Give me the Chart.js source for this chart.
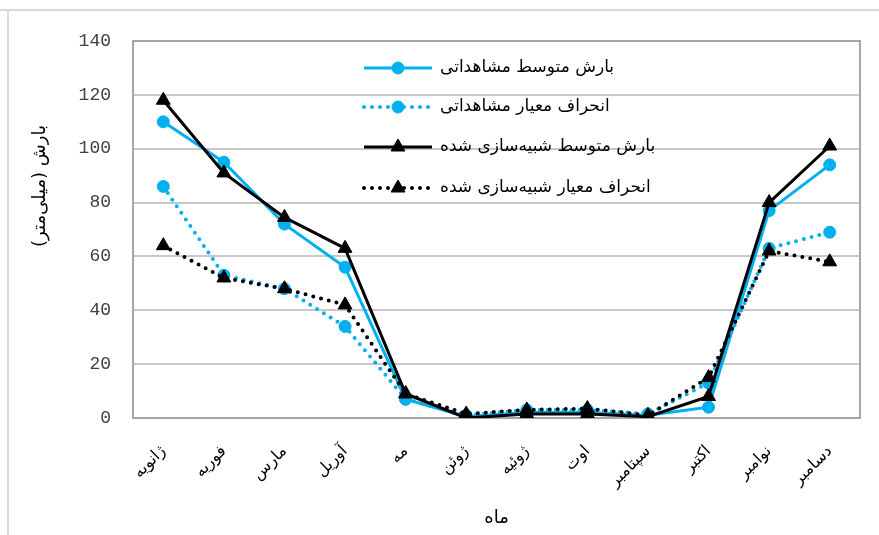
<!DOCTYPE html>
<html>
<head>
<meta charset="utf-8">
<script src="https://cdn.jsdelivr.net/npm/chart.js@4"></script>
<style>
  html, body { margin: 0; padding: 0; background: #fff; }
  #wrap { width: 879px; height: 535px; }
</style>
</head>
<body>
<div id="wrap"><canvas id="chart" width="879" height="535"></canvas></div>
<script>
const months = ["ژانویه", "فوریه", "مارس", "آوریل", "مه", "ژوئن", "ژوئیه", "اوت", "سپتامبر", "اکتبر", "نوامبر", "دسامبر"];

const obsMean = [110, 95, 72, 56, 7, 0.5, 2, 2, 1, 4, 77, 94];
const obsSd = [86, 53, 48, 34, 7, 1, 3, 3, 1.5, 13, 63, 69];
const simMean = [118, 91, 74.5, 63, 9, 0, 1.5, 1.5, 0.5, 8, 80, 101];
const simSd = [64, 52, 48, 42, 9, 1.5, 3, 3.5, 1, 15, 62, 58];

const seriesNames = ["بارش متوسط مشاهداتی", "انحراف معیار مشاهداتی", "بارش متوسط شبیه‌سازی شده", "انحراف معیار شبیه‌سازی شده"];
const yTitle = "بارش (میلی‌متر)";
const xTitle = "ماه";

const blue = "#00B0F0";
const faFont = "'DejaVu Sans', sans-serif";
const legendRows = [68, 107, 147, 188];

function makeSet(label, data, color, dotted, style, radius, order) {
  return {
    label, data, order,
    borderColor: color,
    backgroundColor: color,
    borderWidth: dotted ? 4 : 3,
    borderDash: dotted ? [0, 8] : [],
    borderCapStyle: dotted ? "round" : "butt",
    pointStyle: style,
    pointRadius: radius,
    pointBorderWidth: 1,
    fill: false,
    tension: 0
  };
}

/* 外枠 */
const frame = {
  id: "frame",
  beforeDraw(chart) {
    const ctx = chart.ctx;
    ctx.save();
    ctx.strokeStyle = "#d9d9d9";
    ctx.lineWidth = 2;
    ctx.beginPath();
    ctx.moveTo(0, 10); ctx.lineTo(879, 10);
    ctx.moveTo(8, 10); ctx.lineTo(8, 535);
    ctx.stroke();
    ctx.restore();
  },
  beforeDatasetsDraw(chart) {
    const ctx = chart.ctx;
    const a = chart.chartArea;
    ctx.save();
    ctx.strokeStyle = "#a6a6a6";
    ctx.lineWidth = 2;
    ctx.strokeRect(a.left, a.top, a.right - a.left, a.bottom - a.top);
    ctx.restore();
  }
};

/* 凡例・軸タイトル */
const extras = {
  id: "extras",
  afterDraw(chart) {
    const ctx = chart.ctx;
    ctx.save();

    // y title
    ctx.fillStyle = "#000";
    ctx.font = "18px " + faFont;
    ctx.direction = "rtl";
    ctx.textAlign = "center";
    ctx.textBaseline = "middle";
    ctx.save();
    ctx.translate(40, 186);
    ctx.rotate(-Math.PI / 2);
    ctx.fillText(yTitle, 0, 0);
    ctx.restore();

    // legend
    chart.data.datasets.forEach((ds, i) => {
      const y = legendRows[i];
      ctx.save();
      ctx.strokeStyle = ds.borderColor;
      ctx.lineWidth = ds.borderWidth;
      ctx.lineCap = ds.borderCapStyle;
      ctx.setLineDash(ds.borderDash);
      ctx.beginPath();
      ctx.moveTo(364, y);
      ctx.lineTo(432, y);
      ctx.stroke();
      ctx.restore();

      ctx.save();
      ctx.fillStyle = ds.backgroundColor;
      ctx.strokeStyle = ds.borderColor;
      ctx.lineWidth = 1;
      ctx.setLineDash([]);
      Chart.helpers.drawPoint(ctx, {
        pointStyle: ds.pointStyle,
        radius: ds.pointRadius,
        borderWidth: 1,
        rotation: 0
      }, 398, y);
      ctx.restore();

      ctx.fillStyle = "#000";
      ctx.font = "17px " + faFont;
      ctx.direction = "rtl";
      ctx.textAlign = "left";
      ctx.textBaseline = "middle";
      ctx.fillText(ds.label, 440, y);
    });
    ctx.restore();
  }
};

new Chart(document.getElementById("chart"), {
  type: "line",
  data: {
    labels: months,
    datasets: [
      makeSet(seriesNames[0], obsMean, blue, false, "circle", 6, 4),
      makeSet(seriesNames[1], obsSd, blue, true, "circle", 6, 3),
      makeSet(seriesNames[2], simMean, "#000", false, "triangle", 8, 2),
      makeSet(seriesNames[3], simSd, "#000", true, "triangle", 8, 1)
    ]
  },
  options: {
    responsive: false,
    animation: false,
    layout: { padding: { left: 0, right: 19, top: 41, bottom: 0 } },
    plugins: {
      legend: { display: false },
      tooltip: { enabled: false }
    },
    scales: {
      x: {
        offset: true,
        afterFit(s) { s.height = 117; },
        grid: { display: false, drawTicks: false },
        border: { display: false },
        ticks: {
          minRotation: 45,
          maxRotation: 45,
          padding: 24,
          color: "#000",
          font: { family: faFont, size: 16 }
        },
        title: {
          display: true,
          text: xTitle,
          color: "#000",
          font: { family: faFont, size: 18 },
          padding: { top: 0, bottom: 6 }
        }
      },
      y: {
        min: 0,
        max: 140,
        afterFit(s) { s.width = 133; },
        grid: { color: "#c8c8c8", lineWidth: 2, drawTicks: false },
        border: { display: false },
        ticks: {
          stepSize: 20,
          padding: 22,
          color: "#404040",
          font: { family: "'Liberation Mono', monospace", size: 18 }
        }
      }
    }
  },
  plugins: [frame, extras]
});
</script>
</body>
</html>
